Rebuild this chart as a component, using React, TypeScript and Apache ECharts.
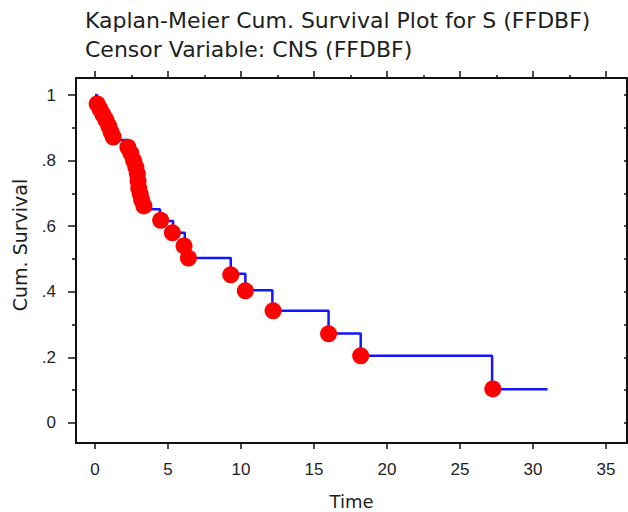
import React, { useEffect, useRef } from "react";
import * as echarts from "echarts";

const titleLines = [
  "Kaplan-Meier Cum. Survival Plot for S (FFDBF)",
  "Censor Variable: CNS (FFDBF)",
];
const xTicks = [0, 5, 10, 15, 20, 25, 30, 35];
const xMinorTicks = [2.5, 7.5, 12.5, 17.5, 22.5, 27.5, 32.5];
const yTicks = [0, 0.2, 0.4, 0.6, 0.8, 1];
const yMinorTicks = [0.1, 0.3, 0.5, 0.7, 0.9];
const yRightTicks = [0, 0.1, 0.2, 0.3, 0.4, 0.5, 0.6, 0.7, 0.8, 0.9, 1];

// Kaplan-Meier step curve (time, survival after that time)
const stepTimes = [
  0, 0.15, 0.35, 0.55, 0.75, 0.95, 1.1, 1.25, 1.5, 2.25, 2.45, 2.65, 2.8, 2.9,
  2.95, 3.0, 3.1, 3.2, 3.35, 3.5, 4.45, 5.35, 6.15, 6.4, 9.3, 10.3, 12.15, 16.0,
  18.2, 27.2, 31.0,
];
const stepSurv = [
  1, 0.973, 0.957, 0.94, 0.924, 0.905, 0.887, 0.872, 0.863, 0.841, 0.823, 0.8,
  0.78, 0.76, 0.738, 0.716, 0.698, 0.68, 0.662, 0.652, 0.616, 0.58, 0.54, 0.503,
  0.455, 0.405, 0.342, 0.273, 0.205, 0.103, 0.103,
];

// Marked observations
const markTimes = [
  0.15, 0.35, 0.55, 0.75, 0.95, 1.1, 1.25, 2.25, 2.45, 2.65, 2.8, 2.9, 2.95,
  3.0, 3.1, 3.2, 3.35, 4.5, 5.3, 6.1, 6.4, 9.3, 10.3, 12.2, 16.0, 18.2, 27.25,
];
const markSurv = [
  0.973, 0.957, 0.94, 0.924, 0.905, 0.887, 0.872, 0.841, 0.823, 0.8, 0.78, 0.76,
  0.738, 0.716, 0.698, 0.68, 0.662, 0.618, 0.58, 0.54, 0.503, 0.452, 0.403,
  0.342, 0.272, 0.205, 0.104,
];

const X_MIN = -1.3;
const X_MAX = 36.44;
const Y_MIN = -0.061;
const Y_MAX = 1.052;

const fmtY = (v: number) => {
  if (Math.abs(v) < 1e-9) return "0";
  if (Math.abs(v - 1) < 1e-9) return "1";
  return v.toFixed(1).replace(/^0/, "");
};

export default function App() {
  const ref = useRef<HTMLDivElement>(null);
  useEffect(() => {
    if (!ref.current) return;
    const chart = echarts.init(ref.current, undefined, { renderer: "svg" });
    const textColor = "#1e1e1e";
    const lineStyle = { color: "#111", width: 2 };
    const stepData = stepTimes.map((t, i) => [t, stepSurv[i]]);
    const markData = markTimes.map((t, i) => [t, markSurv[i]]);
    chart.setOption({
      animation: false,
      backgroundColor: "#ffffff",
      grid: {
        left: 76,
        right: 1,
        top: 78,
        bottom: 69,
        containLabel: false,
        outerBoundsMode: "none",
      },
      graphic: [
        {
          type: "text",
          left: 85,
          top: 9,
          style: {
            text: titleLines[0],
            font: "22px 'DejaVu Sans'",
            fill: textColor,
          },
        },
        {
          type: "text",
          left: 85,
          top: 38,
          style: {
            text: titleLines[1],
            font: "22px 'DejaVu Sans'",
            fill: textColor,
          },
        },
        {
          type: "text",
          x: 20,
          y: 245,
          rotation: Math.PI / 2,
          style: {
            text: "Cum. Survival",
            font: "19px 'DejaVu Sans'",
            fill: textColor,
            textAlign: "center",
            textVerticalAlign: "middle",
          },
        },
      ],
      xAxis: [
        {
          type: "value",
          position: "bottom",
          min: X_MIN,
          max: X_MAX,
          name: "Time",
          nameLocation: "middle",
          nameGap: 49,
          nameTextStyle: {
            fontFamily: "DejaVu Sans",
            fontSize: 18,
            color: textColor,
          },
          axisLine: { show: true, onZero: false, lineStyle },
          axisTick: {
            show: true,
            customValues: xTicks,
            length: 6,
            lineStyle: { color: "#111", width: 1.5 },
          },
          axisLabel: {
            show: true,
            customValues: xTicks,
            margin: 18,
            fontFamily: "Liberation Sans",
            fontSize: 17,
            color: textColor,
          },
          splitLine: { show: false },
        },
        {
          type: "value",
          position: "top",
          min: X_MIN,
          max: X_MAX,
          axisLine: { show: true, onZero: false, lineStyle },
          axisTick: {
            show: true,
            customValues: xTicks,
            length: 7,
            lineStyle: { color: "#111", width: 1.5 },
          },
          axisLabel: { show: false },
          splitLine: { show: false },
        },
        {
          type: "value",
          position: "top",
          min: X_MIN,
          max: X_MAX,
          axisLine: { show: false, onZero: false },
          axisTick: {
            show: true,
            customValues: xMinorTicks,
            length: 3,
            lineStyle: { color: "#111", width: 1.5 },
          },
          axisLabel: { show: false },
          splitLine: { show: false },
        },
      ],
      yAxis: [
        {
          type: "value",
          position: "left",
          min: Y_MIN,
          max: Y_MAX,
          axisLine: { show: true, onZero: false, lineStyle },
          axisTick: {
            show: true,
            customValues: yTicks,
            length: 8,
            lineStyle: { color: "#111", width: 1.5 },
          },
          axisLabel: {
            show: true,
            customValues: yTicks,
            margin: 20,
            formatter: (v: number) => fmtY(v),
            fontFamily: "Liberation Sans",
            fontSize: 17,
            color: textColor,
          },
          splitLine: { show: false },
        },
        {
          type: "value",
          position: "left",
          min: Y_MIN,
          max: Y_MAX,
          axisLine: { show: false, onZero: false },
          axisTick: {
            show: true,
            customValues: yMinorTicks,
            length: 4,
            lineStyle: { color: "#111", width: 1.5 },
          },
          axisLabel: { show: false },
          splitLine: { show: false },
        },
        {
          type: "value",
          position: "right",
          min: Y_MIN,
          max: Y_MAX,
          axisLine: { show: true, onZero: false, lineStyle },
          axisTick: {
            show: true,
            inside: true,
            customValues: yRightTicks,
            length: 3,
            lineStyle: { color: "#111", width: 1.5 },
          },
          axisLabel: { show: false },
          splitLine: { show: false },
        },
      ],
      series: [
        {
          type: "line",
          xAxisIndex: 0,
          yAxisIndex: 0,
          step: "end",
          data: stepData,
          showSymbol: false,
          symbol: "none",
          lineStyle: { color: "#1414ff", width: 2.5 },
          z: 2,
        },
        {
          type: "scatter",
          xAxisIndex: 0,
          yAxisIndex: 0,
          data: markData,
          symbol: "circle",
          symbolSize: 17,
          itemStyle: { color: "#ff0000", opacity: 1 },
          z: 3,
        },
      ],
    });
    return () => chart.dispose();
  }, []);
  return (
    <div
      ref={ref}
      style={{ position: "fixed", left: 0, top: 0, width: 628, height: 512 }}
    />
  );
}
